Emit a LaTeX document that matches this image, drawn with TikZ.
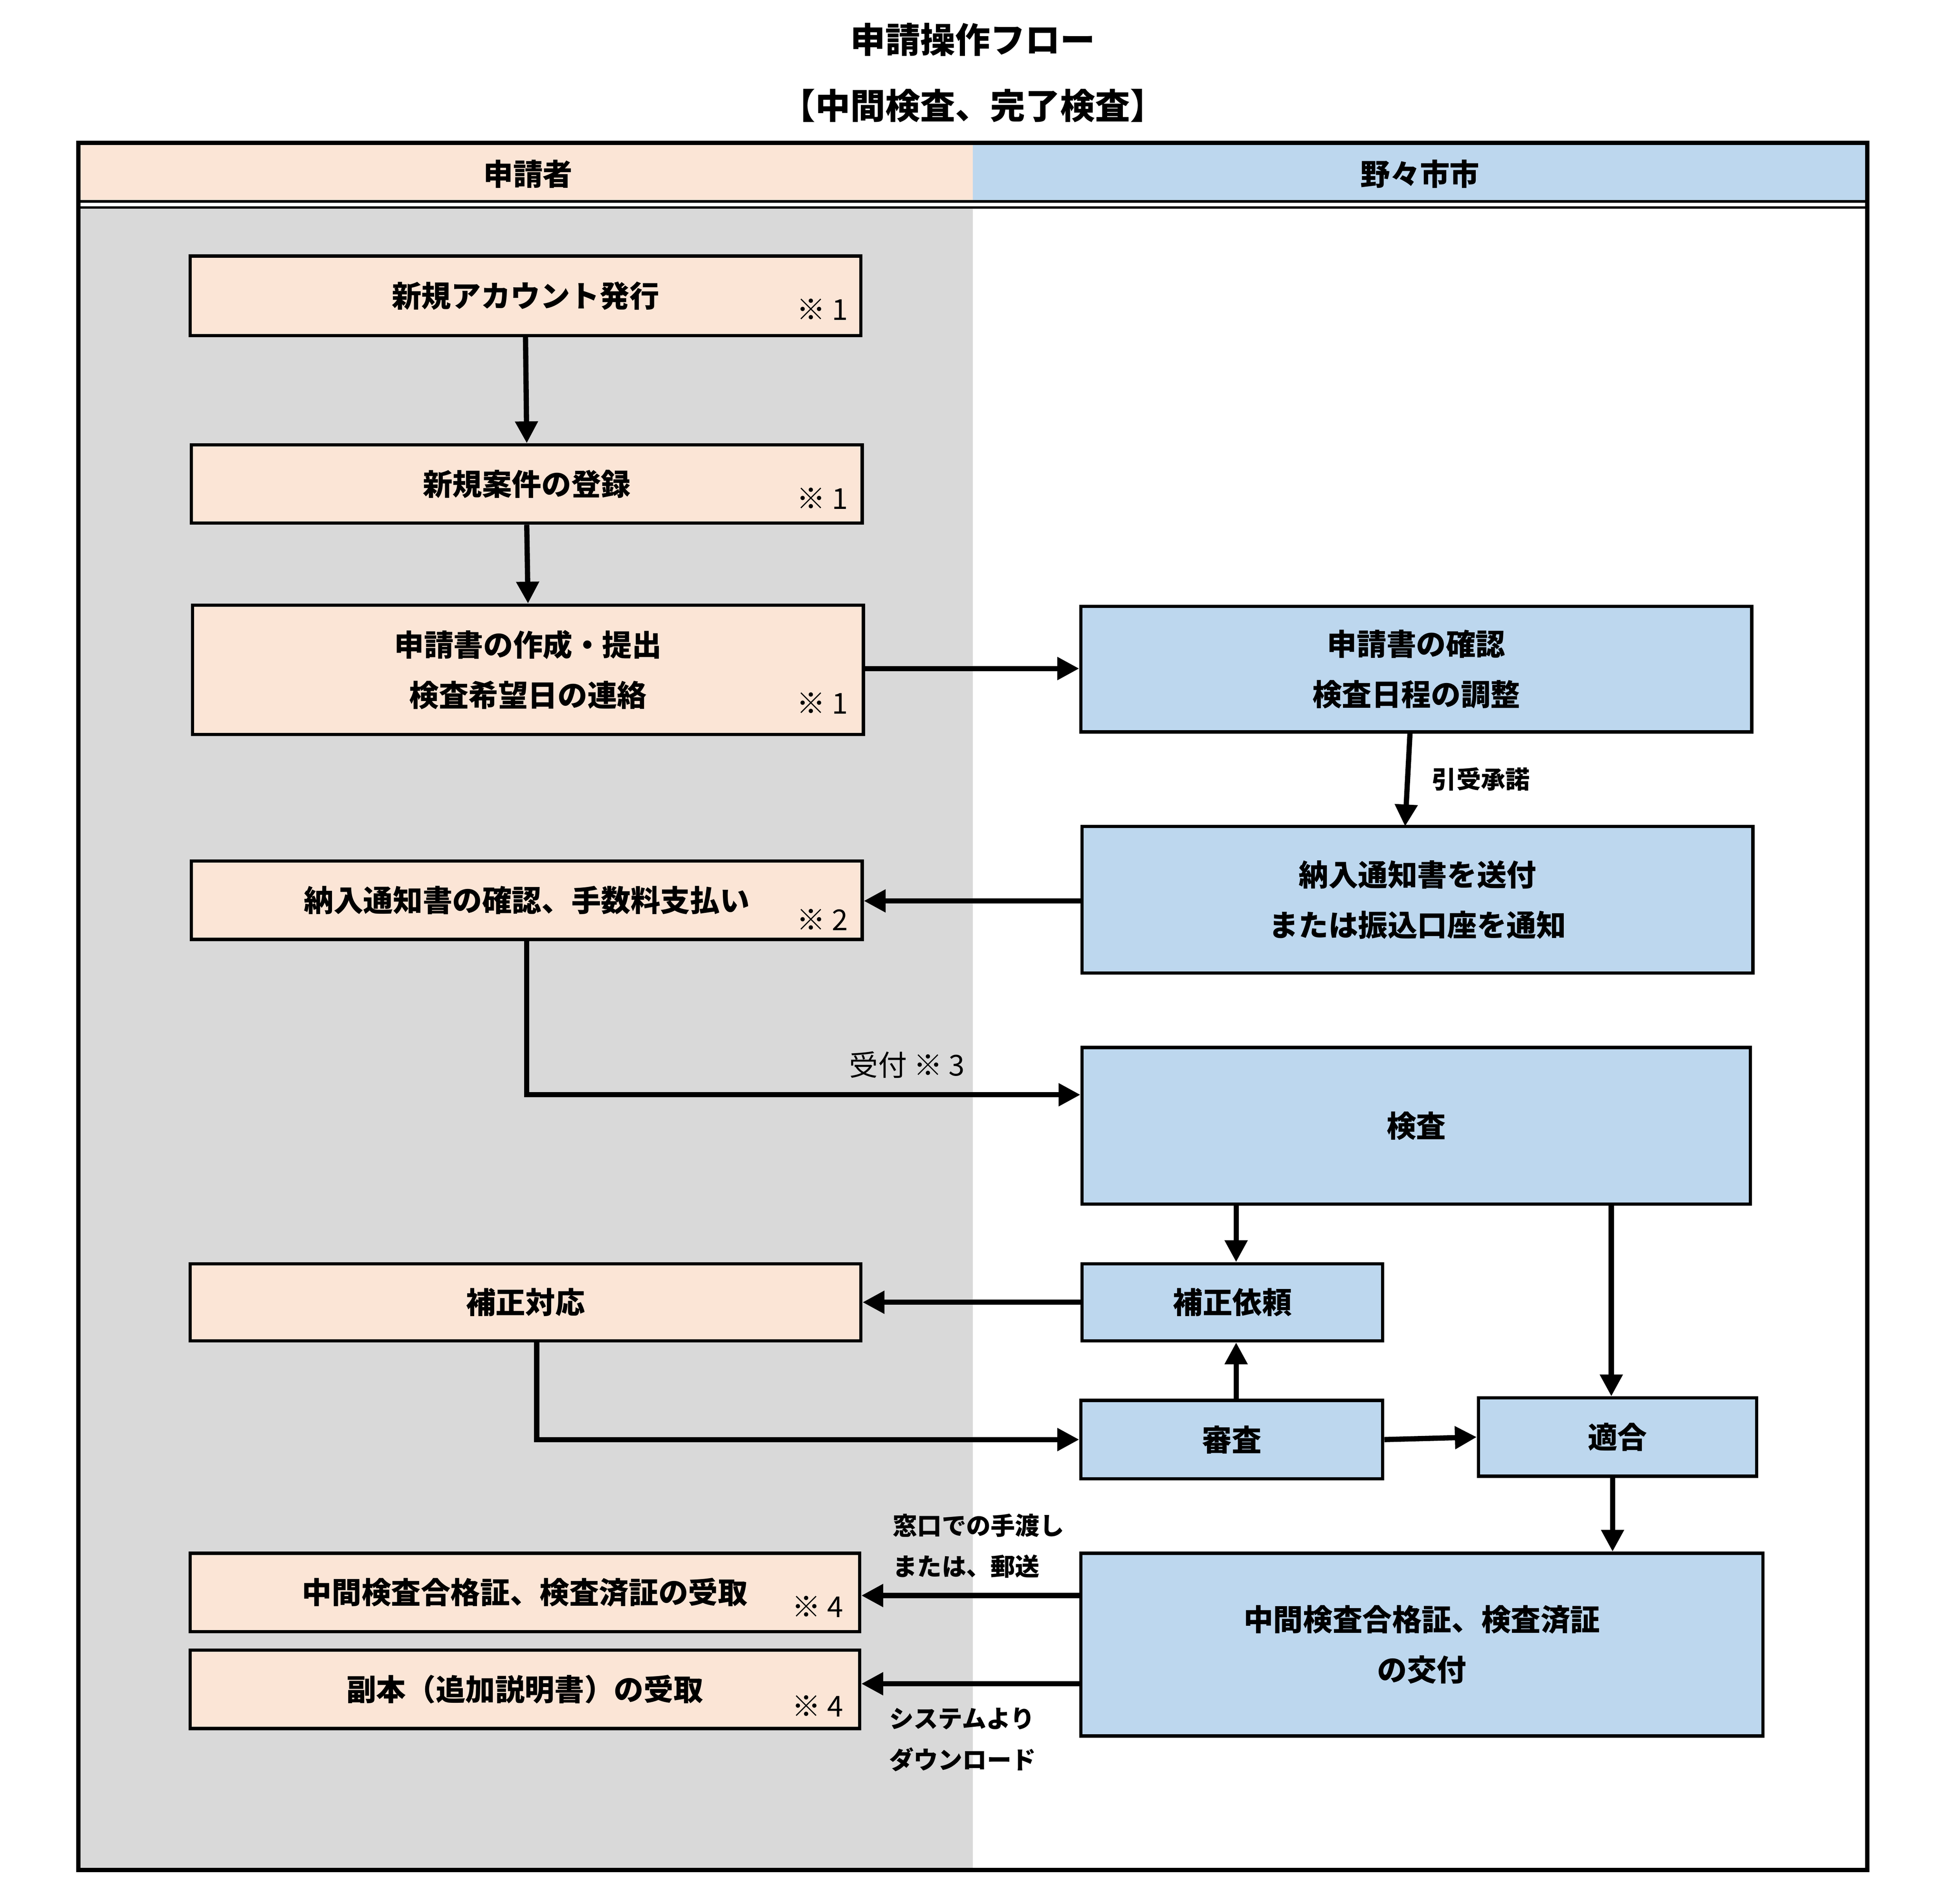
\documentclass[tikz,border=0pt]{standalone}
\usepackage{fontspec}
\setmainfont{Noto Sans CJK JP}
\usetikzlibrary{arrows.meta}
\definecolor{peach}{HTML}{FBE5D6}
\definecolor{lblue}{HTML}{BDD7EE}
\definecolor{lgray}{HTML}{D9D9D9}
\tikzset{
 boxst/.style={draw=black,line width=0.75pt,align=center,font=\fontsize{6.8pt}{11.5pt}\selectfont\bfseries,inner sep=0pt},
 arr/.style={line width=1.2pt,-{Triangle[length=5pt,width=5pt]}},
 note/.style={font=\fontsize{6.6pt}{8pt}\selectfont,inner sep=0pt},
 lab/.style={font=\fontsize{5.6pt}{9.4pt}\selectfont\bfseries,align=left,inner sep=0pt,anchor=west},
}
\newcommand{\bx}[7]{\node[boxst,fill=#6,minimum width={(#4-#2)*0.01cm},minimum height={(#5-#3)*0.01cm}] (#1) at ({(#2+#4)/2},{(#3+#5)/2}) {#7};}
\begin{document}
\begin{tikzpicture}[x=0.01cm,y=-0.01cm]
\useasboundingbox (0,0) rectangle (1568,1532);
\fill[white] (0,0) rectangle (1568,1532);
\node[font=\fontsize{8pt}{10pt}\selectfont\bfseries] (t1) at (783,32) {申請操作フロー};
\node[font=\fontsize{8pt}{10pt}\selectfont\bfseries] (t2) at (783,85) {【中間検査、完了検査】};
\fill[lgray] (63,167) rectangle (783,1505);
\fill[peach] (63,115) rectangle (783,162);
\fill[lblue] (783,115) rectangle (1503,162);
\draw[line width=0.6pt] (63,162) -- (1503,162);
\draw[line width=0.6pt] (63,167) -- (1503,167);
\draw[line width=1pt] (63,115) rectangle (1503,1505);
\node[font=\fontsize{6.8pt}{8pt}\selectfont\bfseries] (h1) at (425,140) {申請者};
\node[font=\fontsize{6.8pt}{8pt}\selectfont\bfseries] (h2) at (1143,140) {野々市市};
\bx{A}{153}{206}{693}{270}{peach}{新規アカウント発行}
\bx{B}{154}{358}{694}{421}{peach}{新規案件の登録}
\bx{C}{155}{487}{695}{591}{peach}{申請書の作成・提出\\検査希望日の連絡}
\bx{D}{154}{693}{694}{756}{peach}{納入通知書の確認、手数料支払い}
\bx{E}{153}{1017}{693}{1079}{peach}{補正対応}
\bx{F}{153}{1250}{692}{1313}{peach}{中間検査合格証、検査済証の受取}
\bx{G}{153}{1328}{692}{1391}{peach}{副本（追加説明書）の受取}
\bx{H}{870}{488}{1410}{589}{lblue}{申請書の確認\\検査日程の調整}
\bx{I}{871}{665}{1411}{783}{lblue}{納入通知書を送付\\または振込口座を通知}
\bx{J}{871}{843}{1409}{969}{lblue}{検査}
\bx{K}{871}{1017}{1113}{1079}{lblue}{補正依頼}
\bx{L}{870}{1127}{1113}{1190}{lblue}{審査}
\bx{M}{1190}{1125}{1414}{1188}{lblue}{適合}
\bx{N}{870}{1250}{1419}{1397}{lblue}{中間検査合格証、検査済証\\の交付}
\node[note] (n1) at (662,249) {※ 1};
\node[note] (n2) at (662,401) {※ 1};
\node[note] (n3) at (662,566) {※ 1};
\node[note] (n4) at (662,740) {※ 2};
\node[note] (n5) at (658,1293) {※ 4};
\node[note] (n6) at (658,1373) {※ 4};
\draw[arr] (A.south) -- (B.north);
\draw[arr] (B.south) -- (C.north);
\draw[arr] (C.east |- 0,538) -- (H.west |- 0,538);
\draw[arr] (1135,589) -- (1131,665);
\node[lab] (l1) at (1152,627) {引受承諾};
\draw[arr] (I.west |- 0,725) -- (D.east |- 0,725);
\draw[arr] (D.south) |- (J.west |- 0,881);
\node[note,anchor=west] (l2) at (683,857) {受付 ※ 3};
\draw[arr] (J.south -| 995,0) -- (K.north -| 995,0);
\draw[arr] (J.south -| 1297,0) -- (M.north -| 1297,0);
\draw[arr] (K.west) -- (E.east);
\draw[arr] (E.south -| 432,0) |- (L.west);
\draw[arr] (L.north -| 995,0) -- (K.south -| 995,0);
\draw[arr] (L.east) -- (M.west);
\draw[arr] (M.south -| 1298,0) -- (N.north -| 1298,0);
\draw[arr] (N.west |- 0,1284) -- (F.east |- 0,1284);
\draw[arr] (N.west |- 0,1355) -- (G.east |- 0,1355);
\node[lab] (l3) at (718,1244) {窓口での手渡し\\または、郵送};
\node[lab] (l4) at (715,1400) {システムより\\ダウンロード};
\end{tikzpicture}
\end{document}
